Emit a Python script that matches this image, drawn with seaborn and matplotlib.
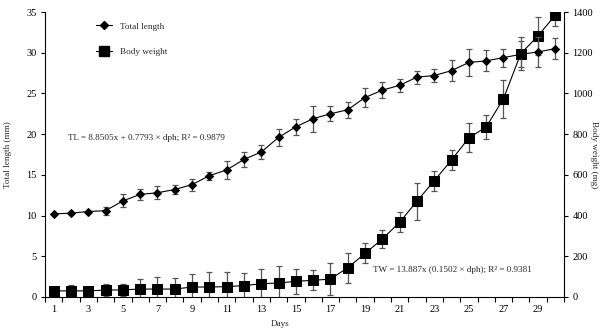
import numpy as np
import pandas as pd
import matplotlib
matplotlib.use("Agg")
import matplotlib.pyplot as plt
from matplotlib.lines import Line2D
from matplotlib.ticker import FixedLocator
import seaborn as sns

days = list(range(1, 31))
total_length = [10.2, 10.3, 10.5, 10.6, 11.8, 12.6, 12.8, 13.2, 13.8, 14.9,
                15.6, 16.9, 17.8, 19.6, 20.9, 21.9, 22.5, 23.0, 24.5, 25.4,
                26.0, 27.0, 27.2, 27.8, 28.8, 29.0, 29.4, 29.8, 30.1, 30.5]
total_length_sd = [0.1, 0.1, 0.1, 0.5, 0.8, 0.7, 0.8, 0.6, 0.75, 0.5,
                   1.1, 0.9, 0.9, 1.0, 1.0, 1.6, 0.9, 1.0, 1.2, 1.0,
                   0.8, 0.8, 0.8, 1.3, 1.6, 1.3, 1.1, 1.6, 1.8, 1.3]
body_weight = [30, 30, 30, 34, 35, 39, 39, 39, 49, 49,
               51, 56, 65, 69, 77, 82, 88, 144, 214, 285,
               367, 471, 571, 673, 782, 835, 974, 1195, 1283, 1385]
body_weight_sd = [18, 31, 20, 29, 31, 47, 61, 56, 65, 74,
                  70, 62, 75, 82, 61, 50, 80, 73, 49, 43,
                  49, 91, 49, 49, 72, 60, 94, 80, 92, 53]
x_labels = [str(d) for d in range(1, 30, 2)]
left_ticks = [0, 5, 10, 15, 20, 25, 30, 35]
right_ticks = [0, 200, 400, 600, 800, 1000, 1200, 1400]
tl_eq = "TL = 8.8505x + 0.7793 × dph; R² = 0.9879"
tw_eq = "TW = 13.887x (0.1502 × dph); R² = 0.9381"

df = pd.DataFrame({"day": days, "tl": total_length, "tl_sd": total_length_sd,
                   "bw": body_weight, "bw_sd": body_weight_sd})

sns.set_theme(style="white")
plt.rcParams["font.family"] = ["Liberation Serif", "DejaVu Serif"]
fs = 7.5
fs_small = 6.6

fig = plt.figure(figsize=(6.07, 3.32), dpi=100)
ax = fig.add_axes([45/607, 1-297/332, 519/607, 285/332])
ax2 = ax.twinx()

ecol = "#555555"
ax.errorbar(df["day"], df["tl"], yerr=df["tl_sd"], fmt="none", ecolor=ecol,
            elinewidth=0.9, capsize=2.2, capthick=0.9, zorder=2)
sns.lineplot(data=df, x="day", y="tl", ax=ax, color="black", linewidth=0.8,
             marker="D", markersize=4, markeredgecolor="black", zorder=3)
ax2.errorbar(df["day"], df["bw"], yerr=df["bw_sd"], fmt="none", ecolor=ecol,
             elinewidth=0.9, capsize=2.2, capthick=0.9, zorder=2)
sns.lineplot(data=df, x="day", y="bw", ax=ax2, color="black", linewidth=0.8,
             marker="s", markersize=6.5, markeredgecolor="black", zorder=3)

ax.set_xlim(0.5, 30.5)
ax.set_ylim(0, 35)
ax2.set_ylim(0, 1400)
ax.set_yticks(left_ticks)
ax2.set_yticks(right_ticks)
ax.set_xticks(list(range(1, 30, 2)))
ax.set_xticklabels(x_labels)
ax.xaxis.set_minor_locator(FixedLocator(np.arange(0.5, 31, 1.0)))

for a in (ax, ax2):
    a.spines["top"].set_visible(False)
    a.grid(False)
ax.spines["right"].set_visible(False)
ax2.spines["left"].set_visible(False)
ax2.spines["bottom"].set_visible(False)
for sp in ("left", "bottom"):
    ax.spines[sp].set_color("black")
    ax.spines[sp].set_linewidth(0.8)
ax2.spines["right"].set_color("black")
ax2.spines["right"].set_linewidth(0.8)

ax.tick_params(axis="x", which="major", length=0, pad=6, labelsize=fs, colors="black")
ax.tick_params(axis="x", which="minor", bottom=True, length=3.5, width=0.8, color="black")
ax.tick_params(axis="y", left=True, length=3, width=0.8, labelsize=fs, colors="black", pad=3)
ax2.tick_params(axis="y", right=True, length=3, width=0.8, labelsize=fs, colors="black", pad=3)

ax.set_xlabel("Days", fontsize=fs_small)
ax.xaxis.set_label_coords((280-45)/519, -(320-297)/285)
ax.set_ylabel("Total length (mm)", fontsize=fs_small)
ax.yaxis.set_label_coords(-(45-12)/519, 0.5)
ax2.set_ylabel("Body weight (mg)", fontsize=fs_small, rotation=270)
ax2.yaxis.set_label_coords(1 + (598-564)/519, 0.5)

ax.text((68-45)/519, (297-138)/285, tl_eq, transform=ax.transAxes,
        fontsize=fs_small, va="center", ha="left")
ax.text((373-45)/519, (297-270)/285, tw_eq, transform=ax.transAxes,
        fontsize=fs_small, va="center", ha="left")

handles = [Line2D([], [], color="black", lw=0.8, marker="D", markersize=4),
           Line2D([], [], color="black", lw=0.8, marker="s", markersize=6.5)]
ax2.legend(handles, ["Total length", "Body weight"], loc="upper left",
           bbox_to_anchor=((88-45)/519, 1 - (14-12)/285), frameon=False,
           fontsize=fs_small, labelspacing=1.85, handlelength=1.7, handletextpad=0.9)

ax.set_zorder(ax2.get_zorder() + 1)
ax.patch.set_visible(False)

fig.savefig("out.png", dpi=100)
